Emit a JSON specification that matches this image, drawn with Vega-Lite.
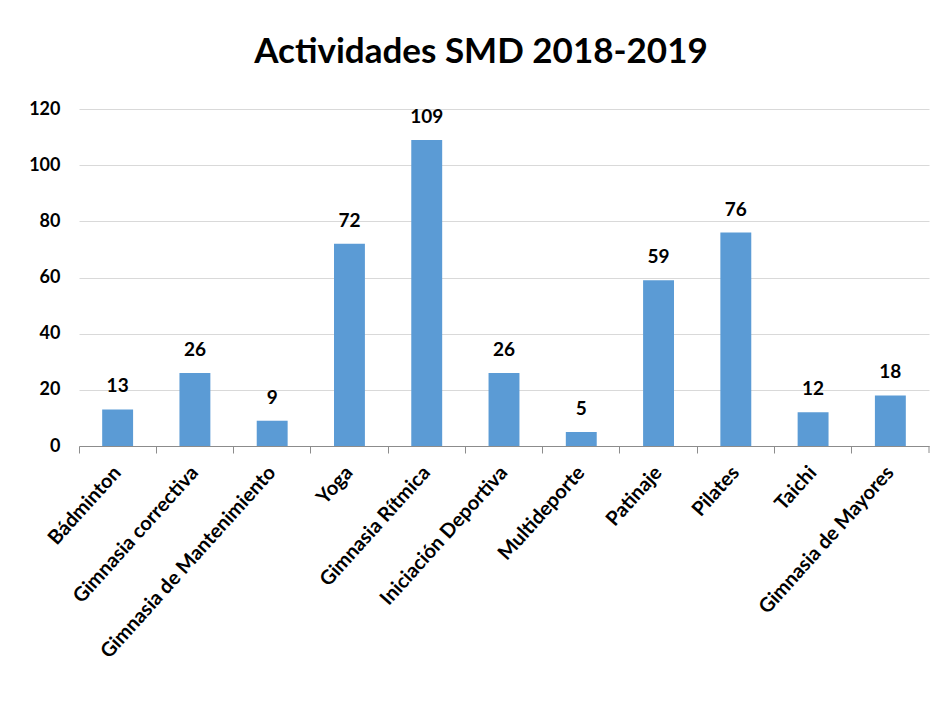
{
  "$schema": "https://vega.github.io/schema/vega-lite/v6.json",
  "autosize": "none",
  "width": 850,
  "height": 337,
  "padding": {"left": 79, "top": 109, "right": 19, "bottom": 255},
  "background": "white",
  "config": {
    "view": {"stroke": null},
    "font": "Lato",
    "axis": {"labelFont": "Lato", "labelFontWeight": "bold", "labelColor": "#000000", "labelFontSize": 18}
  },
  "title": {
    "text": "Actividades SMD 2018-2019",
    "font": "Lato",
    "fontSize": 35,
    "fontWeight": "bold",
    "color": "#000000",
    "anchor": "middle",
    "dx": -23,
    "offset": 30
  },
  "data": {
    "values": [
      {"actividad": "Bádminton", "valor": 13},
      {"actividad": "Gimnasia correctiva", "valor": 26},
      {"actividad": "Gimnasia de Mantenimiento", "valor": 9},
      {"actividad": "Yoga", "valor": 72},
      {"actividad": "Gimnasia Rítmica", "valor": 109},
      {"actividad": "Iniciación Deportiva", "valor": 26},
      {"actividad": "Multideporte", "valor": 5},
      {"actividad": "Patinaje", "valor": 59},
      {"actividad": "Pilates", "valor": 76},
      {"actividad": "Taichi", "valor": 12},
      {"actividad": "Gimnasia de Mayores", "valor": 18}
    ]
  },
  "encoding": {
    "x": {
      "field": "actividad",
      "type": "nominal",
      "sort": null,
      "scale": {"paddingInner": 0, "paddingOuter": 0},
      "axis": {
        "title": null,
        "bandPosition": 0,
        "labelAngle": -48,
        "labelAlign": "right",
        "labelBaseline": "middle",
        "labelOffset": 0,
        "labelPadding": 16,
        "labelLimit": 400,
        "labelFontSize": 20,
        "tickSize": 7,
        "tickColor": "#8c8c8c",
        "domainColor": "#8c8c8c",
        "tickWidth": 1,
        "domainWidth": 1,
        "grid": false
      }
    }
  },
  "layer": [
    {
      "mark": {"type": "bar", "color": "#5B9BD5", "width": {"band": 0.4}},
      "encoding": {
        "y": {
          "field": "valor",
          "type": "quantitative",
          "scale": {"domain": [0, 120], "nice": false},
          "axis": {
            "title": null,
            "values": [0, 20, 40, 60, 80, 100, 120],
            "domain": false,
            "ticks": false,
            "labelPadding": 19,
            "gridColor": "#d9d9d9",
            "gridWidth": 1
          }
        }
      }
    },
    {
      "mark": {"type": "text", "font": "Lato", "fontWeight": "bold", "fontSize": 19, "color": "#000000", "baseline": "alphabetic", "dy": -17},
      "encoding": {
        "y": {"field": "valor", "type": "quantitative"},
        "text": {"field": "valor", "type": "quantitative"}
      }
    },
    {
      "transform": [{"filter": "datum.actividad === 'Gimnasia de Mayores'"}],
      "mark": {"type": "rule", "color": "#8c8c8c", "strokeWidth": 1, "y2Offset": 7},
      "encoding": {
        "x": {"field": "actividad", "type": "nominal", "sort": null, "bandPosition": 1},
        "y": {"datum": 0},
        "y2": {"datum": 0}
      }
    }
  ]
}
